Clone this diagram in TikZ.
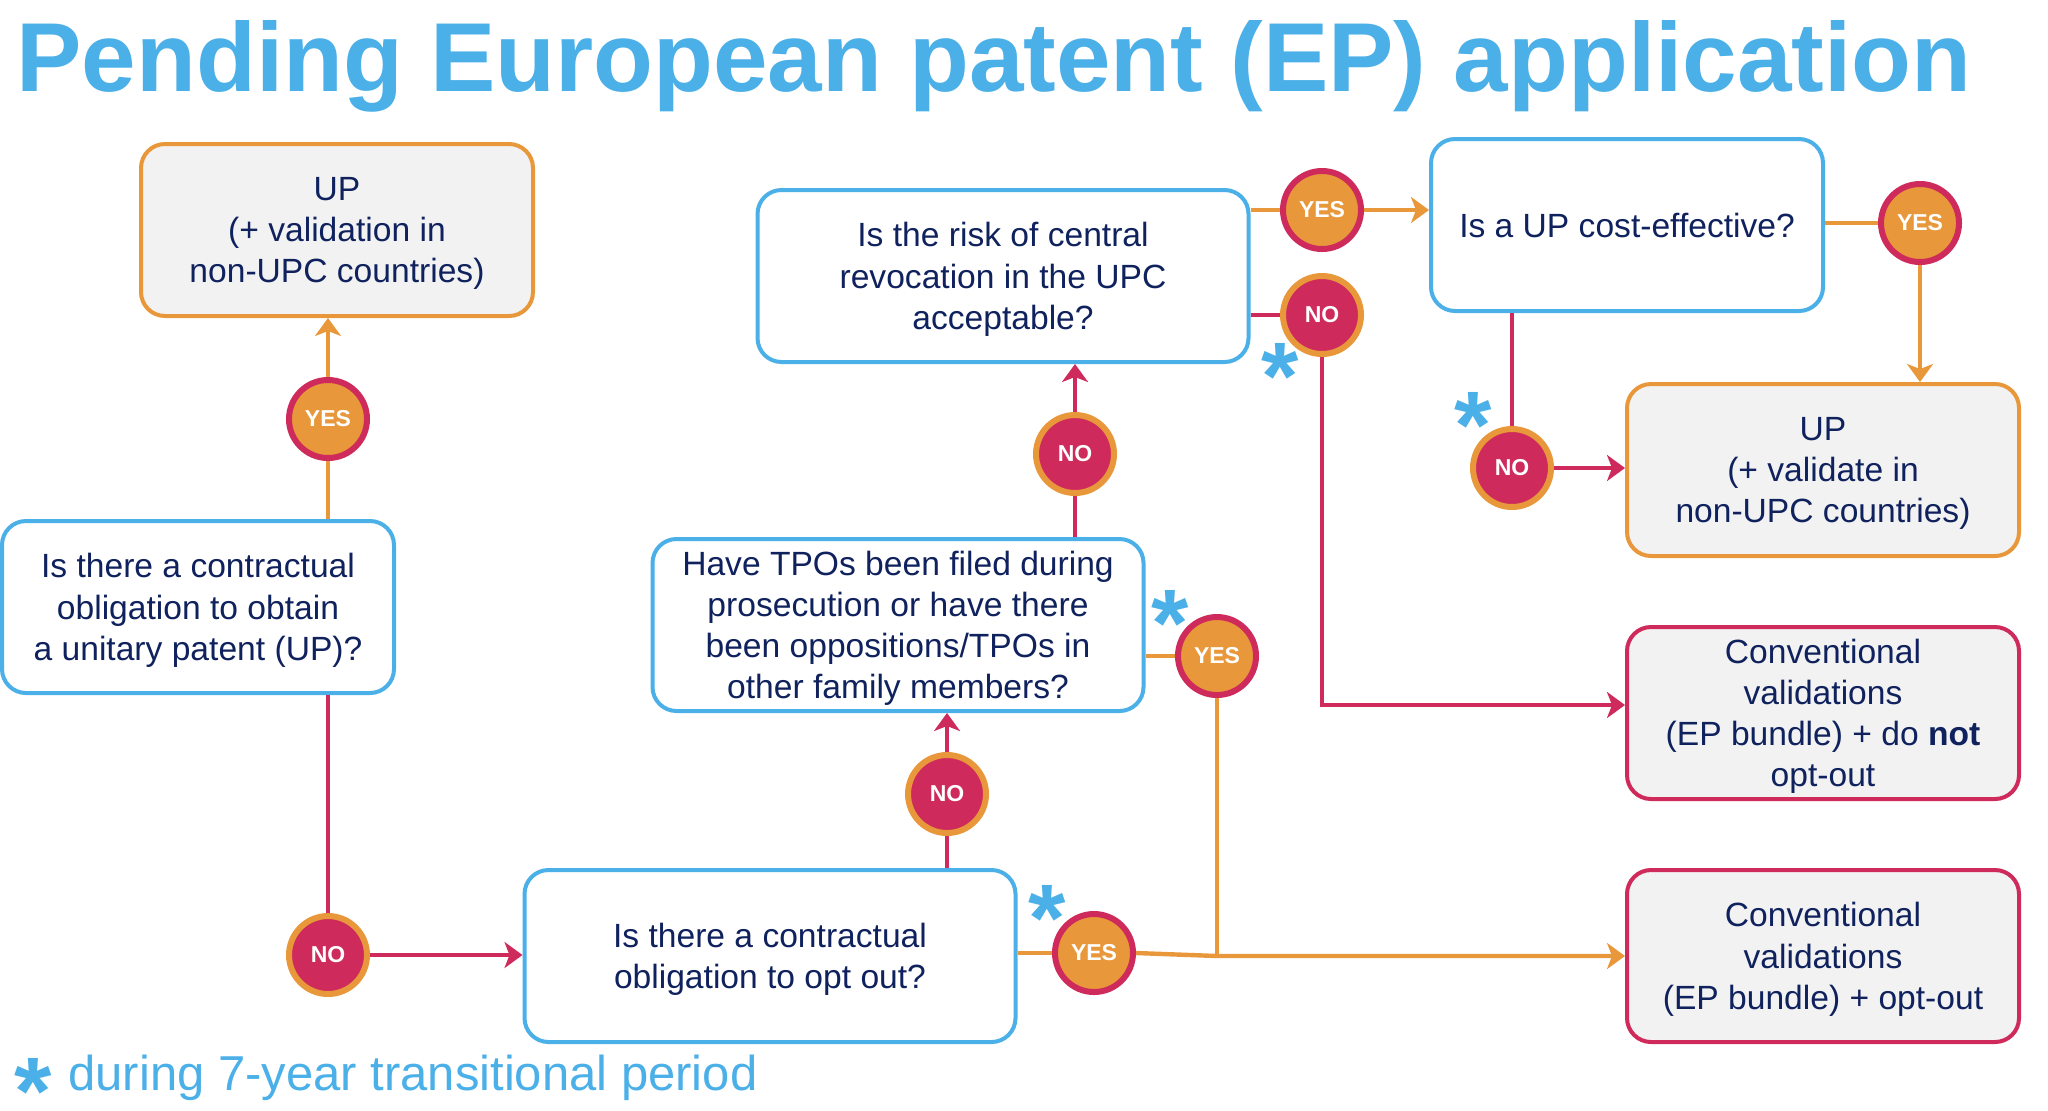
\documentclass[tikz,border=0pt]{standalone}
\usepackage{fontspec}
\setmainfont{Liberation Sans}
\usetikzlibrary{arrows.meta}

\definecolor{epblue}{HTML}{4BAFE8}
\definecolor{eporange}{HTML}{E8983A}
\definecolor{epred}{HTML}{CE2B5C}
\definecolor{epnavy}{HTML}{10225E}
\definecolor{epgrey}{HTML}{F2F2F2}

\begin{document}
\begin{tikzpicture}[x=0.5pt,y=-0.5pt,
  qbox/.style={draw=epblue,line width=2pt,rounded corners=12pt,fill=white,align=center,
    text=epnavy,font=\fontsize{16.8}{20.6}\selectfont,minimum height=86pt,minimum width=245.5pt,
    text depth=0pt},
  upbox/.style={qbox,draw=eporange,fill=epgrey,minimum width=196pt},
  endbox/.style={qbox,draw=epred,fill=epgrey,minimum width=196pt},
  yescirc/.style={circle,draw=epred,fill=eporange,line width=3pt,minimum size=39pt,inner sep=0pt,
    text=white,font=\bfseries\fontsize{11.5}{12}\selectfont},
  nocirc/.style={yescirc,draw=eporange,fill=epred},
  yline/.style={draw=eporange,line width=2.2pt},
  nline/.style={draw=epred,line width=2.2pt},
  arr/.style={-{Stealth[length=9pt,width=13pt,inset=2.5pt]}},
  astx/.style={text=epblue,font=\bfseries\fontsize{48}{48}\selectfont,inner sep=0pt,anchor=north}
]
\useasboundingbox (0,0) rectangle (2048,1110);

\node[anchor=base west,inner sep=0pt,text=epblue,font=\bfseries\fontsize{49}{49}\selectfont] (title) at (16,91) {Pending European patent (EP) application};

% question boxes
\node[qbox,minimum width=196pt] (q1) at (198,607) {Is there a contractual\\obligation to obtain\\a unitary patent (UP)?};
\node[qbox] (q2) at (770,956) {Is there a contractual\\obligation to opt out?};
\node[qbox] (q3) at (898,625) {Have TPOs been filed during\\prosecution or have there\\been oppositions/TPOs in\\other family members?};
\node[qbox] (q4) at (1003,276) {Is the risk of central\\revocation in the UPC\\acceptable?};
\node[qbox,minimum width=196pt] (q5) at (1627,225) {Is a UP cost-effective?};

% outcomes
\node[upbox] (up1) at (337,230) {UP\\(+ validation in\\non-UPC countries)};
\node[upbox] (up2) at (1823,470) {UP\\(+ validate in\\non-UPC countries)};
\node[endbox] (fin1) at (1823,713) {Conventional\\validations\\(EP bundle) + do \textbf{not}\\opt-out};
\node[endbox] (fin2) at (1823,956) {Conventional\\validations\\(EP bundle) + opt-out};

% yes / no
\node[yescirc] (yes1) at (328,419) {YES};
\node[nocirc] (no1) at (328,955) {NO};
\node[yescirc] (yes2) at (1094,953) {YES};
\node[nocirc] (no2) at (947,794) {NO};
\node[yescirc] (yes3) at (1217,656) {YES};
\node[nocirc] (no3) at (1075,454) {NO};
\node[yescirc] (yes4) at (1322,210) {YES};
\node[nocirc] (no4) at (1322,315) {NO};
\node[yescirc] (yes5) at (1920,223) {YES};
\node[nocirc] (no5) at (1512,468) {NO};

\coordinate (junc) at (yes3 |- fin2.west);
\coordinate (turn) at (1322,705);

\draw[yline] (yes1 |- q1.north) -- (yes1.south);
\draw[yline,arr] (yes1.north) -- (yes1 |- up1.south);
\draw[nline] (no1 |- q1.south) -- (no1.north);
\draw[nline,arr] (no1.east) -- (q2.west |- no1);

\draw[yline] (q2.east |- yes2) -- (yes2.west);
\draw[yline,arr] (yes2.east) -- (junc) -- (fin2.west |- junc);
\draw[nline] (no2 |- q2.north) -- (no2.south);
\draw[nline,arr] (no2.north) -- (no2 |- q3.south);

\draw[yline] (q3.east |- yes3) -- (yes3.west);
\draw[yline] (yes3.south) -- (junc);
\draw[nline] (no3 |- q3.north) -- (no3.south);
\draw[nline,arr] (no3.north) -- (no3 |- q4.south);

\draw[yline] (q4.east |- yes4) -- (yes4.west);
\draw[yline,arr] (yes4.east) -- (q5.west |- yes4);
\draw[nline] (q4.east |- no4) -- (no4.west);
\draw[nline,arr] (no4.south) -- (turn) -- (turn -| fin1.west);

\draw[yline] (q5.east |- yes5) -- (yes5.west);
\draw[yline,arr] (yes5.south) -- (yes5 |- up2.north);
\draw[nline] (no5 |- q5.south) -- (no5.north);
\draw[nline,arr] (no5.east) -- (up2.west |- no5);

% transitional period marks
\node[astx] (s1) at (1047,885) {*};
\node[astx] (s2) at (1170,590) {*};
\node[astx] (s3) at (1280,343) {*};
\node[astx] (s4) at (1473,392) {*};
\node[astx] (s5) at (33,1058) {*};
\node[anchor=base west,inner sep=0pt,text=epblue,font=\fontsize{24.5}{24.5}\selectfont] (note) at (68,1090) {during 7-year transitional period};
\end{tikzpicture}
\end{document}
